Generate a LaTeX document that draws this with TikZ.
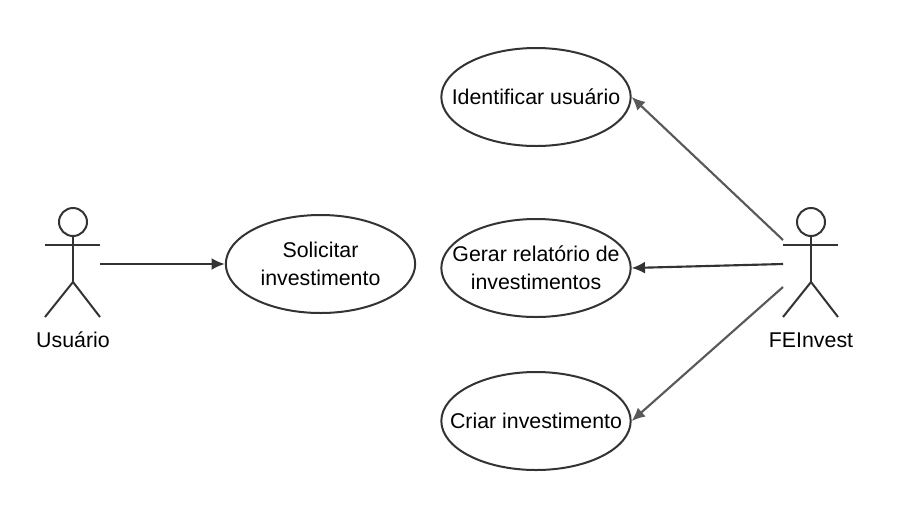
\documentclass[tikz,border=0pt]{standalone}
\usepackage{fontspec}
\setmainfont{Liberation Sans}
\usetikzlibrary{shapes.geometric,arrows.meta}
\definecolor{linegray}{HTML}{333333}
\tikzset{
  usecase/.style={ellipse, draw=linegray, line width=1.5pt, fill=white, minimum width=142pt, minimum height=73.5pt, inner xsep=-20pt, inner ysep=-12pt, align=center, font=\fontsize{16}{21}\selectfont},
  actorpart/.style={draw=linegray, line width=1.5pt},
  actorname/.style={inner sep=0pt, font=\fontsize{16}{21}\selectfont},
  flow/.style={-{Latex[length=10pt,width=9pt]}, draw=linegray, line width=1.6pt},
  slant/.style={flow, draw=black!65},
}
\begin{document}
\begin{tikzpicture}[x=0.75pt,y=-0.75pt]
  \useasboundingbox (0,0) rectangle (909,515);
  \node[usecase] (solicitar) at (320.5,264) {Solicitar\\investimento};
  \node[usecase] (identificar) at (536,97) {Identificar usuário};
  \node[usecase] (gerar) at (536,268) {Gerar relatório de\\investimentos};
  \node[usecase] (criar) at (536,421) {Criar investimento};
  % actor on the left
  \node[circle, actorpart, minimum size=21pt, inner sep=0pt] (headU) at (73,222) {};
  \coordinate (hipU) at (73,282);
  \coordinate (armUa) at (45,245);
  \coordinate (armUb) at (100,245);
  \coordinate (legUa) at (45,317);
  \coordinate (legUb) at (100,317);
  \coordinate (fromU) at (100,264);
  \draw[actorpart] (headU) -- (hipU);
  \draw[actorpart] (armUa) -- (armUb);
  \draw[actorpart] (legUa) -- (hipU) -- (legUb);
  \node[actorname] (usuario) at (73,340) {Usuário};
  % actor on the right
  \node[circle, actorpart, minimum size=21pt, inner sep=0pt] (headF) at (811,222) {};
  \coordinate (hipF) at (811,282);
  \coordinate (armFa) at (783,245);
  \coordinate (armFb) at (838,245);
  \coordinate (legFa) at (783,317);
  \coordinate (legFb) at (838,317);
  \coordinate (fromFa) at (783,240);
  \coordinate (fromFb) at (783,264);
  \coordinate (fromFc) at (783,287);
  \draw[actorpart] (headF) -- (hipF);
  \draw[actorpart] (armFa) -- (armFb);
  \draw[actorpart] (legFa) -- (hipF) -- (legFb);
  \node[actorname] (feinvest) at (811,340) {FEInvest};
  \draw[flow] (fromU) -- (solicitar.west);
  \draw[slant] (fromFa) -- (identificar.east);
  \draw[flow] (fromFb) -- (gerar.east);
  \draw[slant] (fromFc) -- (criar.east);
\end{tikzpicture}
\end{document}
